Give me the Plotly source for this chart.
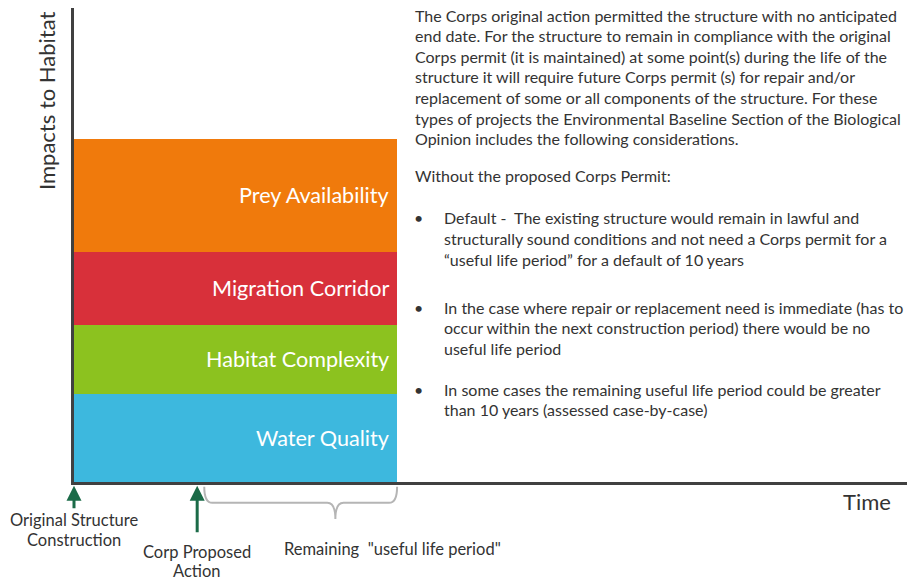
import plotly.graph_objects as go

# DATA
layers = ["Water Quality", "Habitat Complexity", "Migration Corridor", "Prey Availability"]
layer_heights = [18.6, 14.6, 15.4, 23.8]
layer_colors = ["#3db8de", "#8cc21f", "#d8303a", "#f07a0c"]

# time line (years after original construction)
construction_year = 0
corp_action_year = 6.1
useful_life_end = 16.0

intro_lines = [
    "The Corps original action permitted the structure with no anticipated",
    "end date. For the structure to remain in compliance with the original",
    "Corps permit (it is maintained) at some point(s) during the life of the",
    "structure it will require future Corps permit (s) for repair and/or",
    "replacement of some or all components of the structure. For these",
    "types of projects the Environmental Baseline Section of the Biological",
    "Opinion includes the following considerations.",
]
without_line = "Without the proposed Corps Permit:"
bullets = [
    ["Default -  The existing structure would remain in lawful and",
     "structurally sound conditions and not need a Corps permit for a",
     "\u201cuseful life period\u201d for a default of 10 years"],
    ["In the case where repair or replacement need is immediate (has to",
     "occur within the next construction period) there would be no",
     "useful life period"],
    ["In some cases the remaining useful life period could be greater",
     "than 10 years (assessed case-by-case)"],
]

FONT = "Lato"
TXT = "#333333"
OFF = 8  # page margin around the plot div
W, H = 915 - OFF, 581 - OFF
M_L, M_R, M_T, M_B = 74 - OFF, 5, 0, 99

fig = go.Figure()

# stacked habitat layers
for name, h, c in zip(layers, layer_heights, layer_colors):
    fig.add_trace(go.Bar(x=[useful_life_end / 2], y=[h], width=[useful_life_end - construction_year],
                         marker=dict(color=c, line=dict(width=0)), name=name,
                         hoverinfo="skip", showlegend=False))

# layer labels
base = 0
for name, h in zip(layers, layer_heights):
    fig.add_annotation(x=useful_life_end, y=base + h / 2, text=name, showarrow=False,
                       xanchor="right", yanchor="middle", xshift=-6,
                       font=dict(family=FONT, size=21.6, color="white"))
    base += h

# arrows under the time axis
for yr, length in [(construction_year, 24), (corp_action_year, 48)]:
    fig.add_annotation(x=yr, y=-0.008, yref="paper", text="", showarrow=True,
                       ax=0, ay=length, arrowhead=2, arrowsize=1, arrowwidth=3, arrowcolor="#1b6b48")

# brace for remaining useful life
x1 = corp_action_year + 0.35
x2 = useful_life_end
xc = x1 + 0.68 * (x2 - x1)
d = 0.4
yt, ym, yp = -0.01, -0.044, -0.078
path = (f"M {x1},{yt} Q {x1},{ym} {x1 + d},{ym} L {xc - d},{ym} Q {xc},{ym} {xc},{yp} "
        f"Q {xc},{ym} {xc + d},{ym} L {x2 - d},{ym} Q {x2},{ym} {x2},{yt}")
fig.add_shape(type="path", path=path, xref="x", yref="paper", line=dict(color="#b5b5b5", width=2))


def px_x(px):
    return (px - OFF - M_L) / (W - M_L - M_R)


def px_y(py):
    return 1 - (py - OFF - M_T) / (H - M_T - M_B)


def put_text(text, x_px, y_px, size, xanchor="center", angle=0, color=TXT):
    fig.add_annotation(x=px_x(x_px), y=px_y(y_px), xref="paper", yref="paper", text=text,
                       showarrow=False, xanchor=xanchor, yanchor="middle", textangle=angle,
                       font=dict(family=FONT, size=size, color=color))


# labels under axis
put_text("Original Structure", 74, 520, 16.5)
put_text("Construction", 74, 540, 16.5)
put_text("Corp Proposed", 197, 552, 16.5)
put_text("Action", 197, 571, 16.5)
put_text("Remaining  \"useful life period\"", 392, 549, 16.5)

# axis titles
put_text("Time", 867, 501, 22)
put_text("Impacts to Habitat", 47, 101, 22, angle=-90)


# explanatory text on the right
def put_lines(lines, x_px, y_px, size=16, pitch=20.6):
    for i, line in enumerate(lines):
        put_text(line, x_px, y_px + i * pitch, size, xanchor="left")


put_lines(intro_lines, 413, 15)
put_lines([without_line], 413, 175)
for lines, y0 in zip(bullets, [218, 307, 389]):
    put_lines(["\u2022"], 412, y0)
    put_lines(lines, 442, y0)

fig.update_layout(
    width=W, height=H, barmode="stack", bargap=0,
    paper_bgcolor="white", plot_bgcolor="rgba(0,0,0,0)",
    margin=dict(l=M_L, r=M_R, t=M_T, b=M_B),
    xaxis=dict(range=[0, 41.4], showgrid=False, zeroline=False, showticklabels=False, ticks="",
               showline=True, linecolor="#404040", linewidth=3),
    yaxis=dict(range=[0, 100], showgrid=False, zeroline=False, showticklabels=False, ticks="",
               showline=True, linecolor="#404040", linewidth=3),
)

fig.write_html("out.html")
